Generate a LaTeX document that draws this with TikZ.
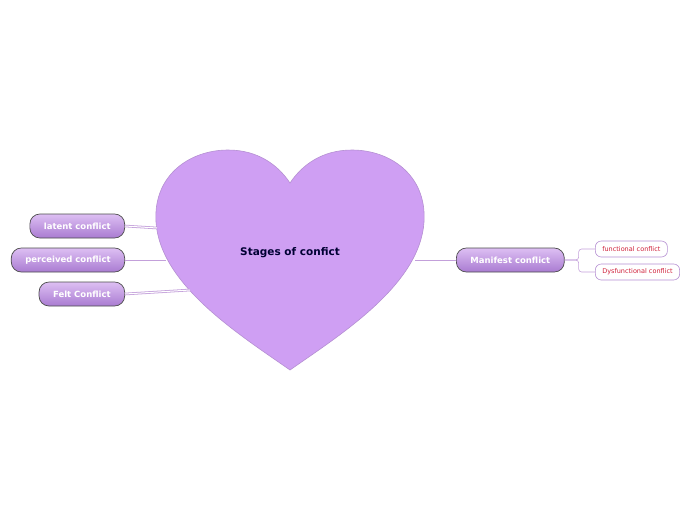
\documentclass[tikz,border=0pt]{standalone}
\usepackage{fontspec}
\setmainfont{DejaVu Sans}
\usetikzlibrary{positioning}

\definecolor{heartfill}{HTML}{CF9FF3}
\definecolor{heartline}{HTML}{B58FD2}
\definecolor{linkcol}{HTML}{C3A0DA}
\definecolor{stagetop}{HTML}{DDBFF3}
\definecolor{stagebot}{HTML}{A97BD1}
\definecolor{subtext}{HTML}{D0203A}

\begin{document}
\begin{tikzpicture}[x=1pt,y=-1pt,
  stage/.style={draw=black!70, line width=0.7pt, rounded corners=10pt, top color=stagetop, bottom color=stagebot,
    text=white, font=\bfseries\fontsize{8.5}{9}\selectfont, minimum height=24pt, inner xsep=14pt},
  substage/.style={draw=heartline, line width=0.6pt, fill=white, rounded corners=6pt, text=subtext,
    font=\fontsize{6.5}{7}\selectfont, minimum height=16pt, inner xsep=7pt},
  link/.style={draw=linkcol, line width=0.8pt},
  dlink/.style={draw=linkcol, double=white, double distance=1pt, line width=0.8pt}]
\useasboundingbox (0,0) rectangle (696,520);

% heart
\draw[fill=heartfill, draw=heartline, line width=0.6pt]
  (290,370) .. controls (240,335) and (160,285) .. (156,222)
  .. controls (153,175) and (190,150) .. (228,150)
  .. controls (258,150) and (278,165) .. (290,183)
  .. controls (302,165) and (322,150) .. (352,150)
  .. controls (390,150) and (427,175) .. (424,222)
  .. controls (420,285) and (340,335) .. (290,370) -- cycle;
\node[font=\bfseries\fontsize{10.5}{11}\selectfont, text=blue!20!black] (root) at (290,253) {Stages of confict};
\coordinate (hlatent) at (157,228);
\coordinate (hperc) at (166,260);
\coordinate (hfelt) at (190,290);
\coordinate (hman) at (415,260);

% left stages
\node[stage, anchor=east] (latent) at (125,226) {latent conflict};
\node[stage, anchor=east] (perc) at (125,260) {perceived conflict};
\node[stage, anchor=east] (felt) at (125,294) {Felt Conflict};

% right stage
\node[stage, anchor=west] (manifest) at (456,260) {Manifest conflict};
\node[substage, anchor=west] (func) at (595,249) {functional conflict};
\node[substage, anchor=west] (dysf) at (595,272) {Dysfunctional conflict};

\path[dlink] (latent.east) -- (hlatent);
\path[link] (perc.east) -- (hperc);
\path[dlink] (felt.east) -- (hfelt);
\path[link] (hman) -- (manifest.west);
\path[link, line width=0.6pt, rounded corners=3pt] (manifest.east) -- ++(14,0) |- (func.west);
\path[link, line width=0.6pt, rounded corners=3pt] (manifest.east) -- ++(14,0) |- (dysf.west);
\end{tikzpicture}
\end{document}
